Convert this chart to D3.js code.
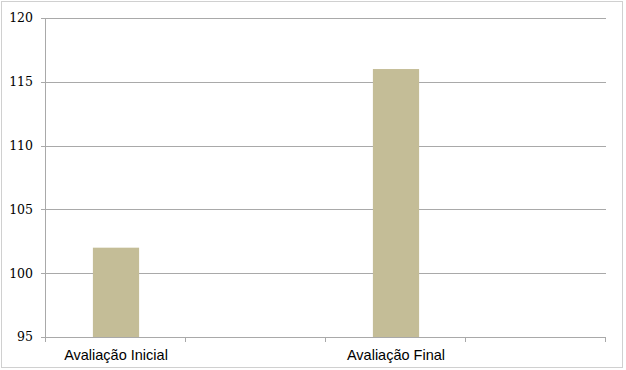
<!DOCTYPE html>
<html>
<head>
<meta charset="utf-8">
<script src="https://cdn.jsdelivr.net/npm/d3@7"></script>
<style>
  body { margin: 0; background: #fff; }
  .ylab text { font-family: "DejaVu Serif", "Liberation Serif", serif; font-size: 12.5px; fill: #000; }
  .xlab text { font-family: "Liberation Sans", Arial, sans-serif; font-size: 14.5px; fill: #000; }
</style>
</head>
<body>
<div id="chart"></div>
<script>
// chart data
var categories = ["Avaliação Inicial", "", "Avaliação Final", ""];
var values = [102, null, 116, null];
var yTicks = [95, 100, 105, 110, 115, 120];

var w = 626;
var h = 370;
var plotLeft = 46, plotRight = 606, plotTop = 18, plotBottom = 337;

var svg = d3.select("#chart")
    .append("svg")
    .attr("width", w)
    .attr("height", h);

// outer frame
svg.append("rect")
    .attr("x", 1.5).attr("y", 1.5)
    .attr("width", 621).attr("height", 366)
    .attr("fill", "#fff")
    .attr("stroke", "#d0d0d0")
    .attr("stroke-width", 1);

var xScale = d3.scaleBand()
    .domain(d3.range(categories.length))
    .range([plotLeft, plotRight])
    .paddingInner(0)
    .paddingOuter(0);

var yScale = d3.scaleLinear()
    .domain([95, 120])
    .range([plotBottom, plotTop]);

// gridlines
svg.append("g")
    .selectAll("line")
    .data(yTicks)
    .enter()
    .append("line")
    .attr("x1", plotLeft - 5)
    .attr("x2", plotRight)
    .attr("y1", function (d) { return Math.round(yScale(d)) + 0.5; })
    .attr("y2", function (d) { return Math.round(yScale(d)) + 0.5; })
    .attr("stroke", "#a9a9a9")
    .attr("stroke-width", 1);

// y axis line
svg.append("line")
    .attr("x1", plotLeft - 0.5).attr("x2", plotLeft - 0.5)
    .attr("y1", plotTop).attr("y2", plotBottom + 1)
    .attr("stroke", "#a9a9a9");

// x tick marks
var xTickPos = d3.range(categories.length + 1).map(function (i) {
    return i < categories.length ? xScale(i) : plotRight;
});
svg.append("g")
    .selectAll("line")
    .data(xTickPos)
    .enter()
    .append("line")
    .attr("x1", function (d) { return Math.round(d) - 0.5; })
    .attr("x2", function (d) { return Math.round(d) - 0.5; })
    .attr("y1", plotBottom)
    .attr("y2", plotBottom + 5)
    .attr("stroke", "#a9a9a9");

// bars
var barW = xScale.bandwidth() * 0.33;
svg.append("g")
    .selectAll("rect")
    .data(values.map(function (v, i) { return { i: i, v: v }; }).filter(function (d) { return d.v !== null; }))
    .enter()
    .append("rect")
    .attr("x", function (d) { return xScale(d.i) + (xScale.bandwidth() - barW) / 2; })
    .attr("y", function (d) { return yScale(d.v); })
    .attr("width", barW)
    .attr("height", function (d) { return yScale(95) - yScale(d.v); })
    .attr("fill", "#c4bd97");

// y labels
svg.append("g")
    .attr("class", "ylab")
    .selectAll("text")
    .data(yTicks)
    .enter()
    .append("text")
    .attr("x", 33)
    .attr("y", function (d) { return yScale(d); })
    .attr("dy", "0.35em")
    .attr("text-anchor", "end")
    .text(function (d) { return d; });

// x labels
svg.append("g")
    .attr("class", "xlab")
    .selectAll("text")
    .data(categories)
    .enter()
    .append("text")
    .attr("x", function (d, i) { return xScale(i) + xScale.bandwidth() / 2; })
    .attr("y", plotBottom + 23)
    .attr("text-anchor", "middle")
    .text(function (d) { return d; });
</script>
</body>
</html>
